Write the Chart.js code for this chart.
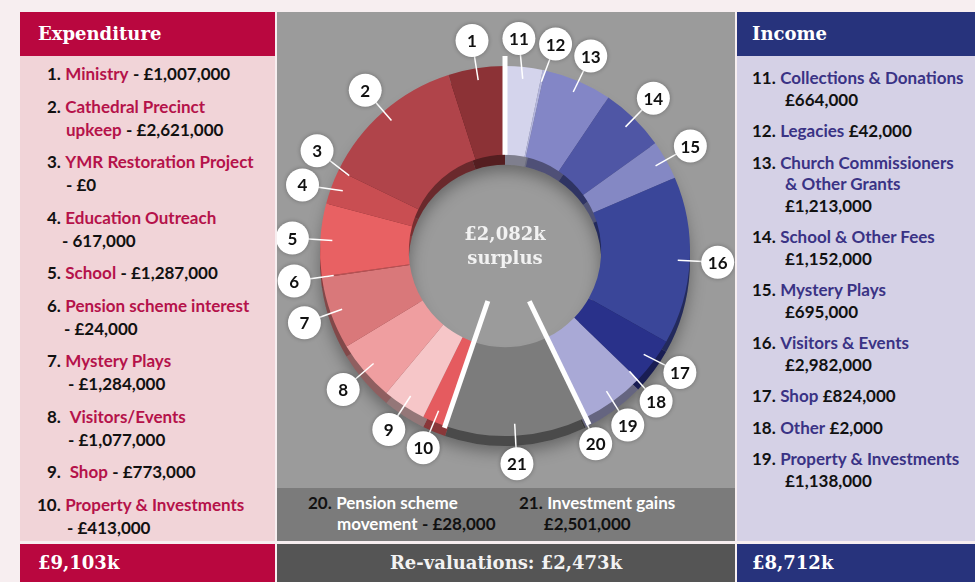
<!DOCTYPE html>
<html>
<head>
<meta charset="utf-8">
<script src="https://cdn.jsdelivr.net/npm/chart.js@4"></script>
<style>
  body { margin: 0; width: 975px; height: 582px; background: #f7eef0; position: relative; overflow: hidden; font-family: Lato, "Open Sans", sans-serif; }
  .box { position: absolute; }
  .head, .foot { font-family: "DejaVu Serif", serif; font-weight: bold; color: #fff; font-size: 18px; }
  .list { font-size: 17px; line-height: 23px; }
  .it { margin-bottom: 9.5px; }
  .n { font-weight: bold; color: #111; }
  .v { font-weight: bold; color: #111; }
  .exp .nm { color: #b5124a; font-weight: bold; }
  .inc .nm { color: #3a3385; font-weight: bold; }
  .rev .nm { color: #fff; font-weight: bold; }
</style>
</head>
<body>
<!-- expenditure panel -->
<div class="box head" style="left:20px;top:12px;width:255px;height:44px;background:#b9073f;line-height:44px;padding-left:18px;box-sizing:border-box;">Expenditure</div>
<div class="box list exp" style="left:20px;top:56px;width:255px;height:485px;background:#f1d4d8;padding-top:6px;box-sizing:border-box;">
  <div class="it" style="padding-left:46px;text-indent:-19px"><span class="n">1.</span> <span class="nm">Ministry</span> <span class="v">- £1,007,000</span></div>
  <div class="it" style="padding-left:46px;text-indent:-19px"><span class="n">2.</span> <span class="nm">Cathedral Precinct<br>upkeep</span> <span class="v">- £2,621,000</span></div>
  <div class="it" style="padding-left:46px;text-indent:-19px"><span class="n">3.</span> <span class="nm">YMR Restoration Project</span><br><span class="v">- £0</span></div>
  <div class="it" style="padding-left:42px;text-indent:-15px"><span class="n">4.</span> <span class="nm">Education Outreach</span><br><span class="v">- 617,000</span></div>
  <div class="it" style="padding-left:46px;text-indent:-19px"><span class="n">5.</span> <span class="nm">School</span> <span class="v">- £1,287,000</span></div>
  <div class="it" style="padding-left:44px;text-indent:-17px"><span class="n">6.</span> <span class="nm">Pension scheme interest</span><br><span class="v">- £24,000</span></div>
  <div class="it" style="padding-left:48px;text-indent:-21px"><span class="n">7.</span> <span class="nm">Mystery Plays</span><br><span class="v">- £1,284,000</span></div>
  <div class="it" style="padding-left:48px;text-indent:-21px"><span class="n">8.</span> &nbsp;<span class="nm">Visitors/Events</span><br><span class="v">- £1,077,000</span></div>
  <div class="it" style="padding-left:46px;text-indent:-19px"><span class="n">9.</span> &nbsp;<span class="nm">Shop</span> <span class="v">- £773,000</span></div>
  <div class="it" style="padding-left:47px;text-indent:-30px"><span class="n">10.</span> <span class="nm">Property &amp; Investments</span><br><span class="v">- £413,000</span></div>
</div>
<div class="box foot" style="left:20px;top:544px;width:255px;height:38px;background:#b9073f;line-height:38px;padding-left:18px;box-sizing:border-box;">£9,103k</div>

<!-- middle panel -->
<div class="box" style="left:277px;top:12px;width:458px;height:476px;background:#9b9b9b;"></div>
<div class="box list rev" style="left:277px;top:488px;width:458px;height:53px;background:#7b7b7b;line-height:21px;">
  <div style="position:absolute;left:31px;top:4px;"><span class="n">20.</span> <span class="nm">Pension scheme<br>&nbsp;&nbsp;&nbsp;&nbsp;&nbsp;&nbsp;&nbsp;movement</span> <span class="v">- £28,000</span></div>
  <div style="position:absolute;left:242px;top:4px;"><span class="n">21.</span> <span class="nm">Investment gains</span><br><span class="v">&nbsp;&nbsp;&nbsp;&nbsp;&nbsp;&nbsp;£2,501,000</span></div>
</div>
<div class="box foot" style="left:277px;top:544px;width:458px;height:38px;background:#555555;line-height:38px;text-align:center;color:#f2f2f2;">Re-valuations: £2,473k</div>
<canvas id="ring" class="box" width="458" height="476" style="left:277px;top:12px;"></canvas>

<!-- income panel -->
<div class="box head" style="left:737px;top:12px;width:238px;height:44px;background:#27337c;line-height:44px;padding-left:15px;box-sizing:border-box;">Income</div>
<div class="box list inc" style="left:737px;top:56px;width:238px;height:485px;background:#d5d1e6;padding-top:11px;box-sizing:border-box;line-height:21.5px;white-space:nowrap;">
  <div class="it" style="padding-left:48px;text-indent:-33px;margin-bottom:10px"><span class="n">11.</span> <span class="nm">Collections &amp; Donations</span><br><span class="v">£664,000</span></div>
  <div class="it" style="padding-left:48px;text-indent:-33px;margin-bottom:10px"><span class="n">12.</span> <span class="nm">Legacies</span> <span class="v">£42,000</span></div>
  <div class="it" style="padding-left:48px;text-indent:-33px;margin-bottom:10px"><span class="n">13.</span> <span class="nm">Church Commissioners<br>&amp; Other Grants</span><br><span class="v">£1,213,000</span></div>
  <div class="it" style="padding-left:48px;text-indent:-33px;margin-bottom:10px"><span class="n">14.</span> <span class="nm">School &amp; Other Fees</span><br><span class="v">£1,152,000</span></div>
  <div class="it" style="padding-left:48px;text-indent:-33px;margin-bottom:10px"><span class="n">15.</span> <span class="nm">Mystery Plays</span><br><span class="v">£695,000</span></div>
  <div class="it" style="padding-left:48px;text-indent:-33px;margin-bottom:10px"><span class="n">16.</span> <span class="nm">Visitors &amp; Events</span><br><span class="v">£2,982,000</span></div>
  <div class="it" style="padding-left:48px;text-indent:-33px;margin-bottom:10px"><span class="n">17.</span> <span class="nm">Shop</span> <span class="v">£824,000</span></div>
  <div class="it" style="padding-left:48px;text-indent:-33px;margin-bottom:10px"><span class="n">18.</span> <span class="nm">Other</span> <span class="v">£2,000</span></div>
  <div class="it" style="padding-left:48px;text-indent:-33px;margin-bottom:10px"><span class="n">19.</span> <span class="nm">Property &amp; Investments</span><br><span class="v">£1,138,000</span></div>
</div>
<div class="box foot" style="left:737px;top:544px;width:238px;height:38px;background:#27337c;line-height:38px;padding-left:15px;box-sizing:border-box;">£8,712k</div>

<script>
// values in £k
const expenditureLabels = ['1', '2', '3', '4', '5', '6', '7', '8', '9', '10'];
const expenditureValues = [1007, 2621, 0, 617, 1287, 24, 1284, 1077, 773, 413];
const incomeLabels = ['11', '12', '13', '14', '15', '16', '17', '18', '19'];
const incomeValues = [664, 42, 1213, 1152, 695, 2982, 824, 2, 1138];
const revaluationLabels = ['20', '21'];
const revaluationValues = [28, 2501];

const expenditureColors = ['#8c3236', '#b0444a', '#be4a4e', '#c94e52', '#e86163', '#b85456', '#d9787a', '#ef9ea0', '#f6c6c8', '#e55b5f'];
const incomeColors = ['#d4d4ec', '#b3b5dd', '#8386c6', '#4f56a5', '#8488c4', '#3a4699', '#29318a', '#5058a8', '#a9a9d6'];
const revaluationColors = ['#5f5f5f', '#7c7c7c'];

// ring runs clockwise from 12 o'clock: income, re-valuations, then expenditure backwards
const labels = incomeLabels.concat(revaluationLabels, expenditureLabels.slice().reverse());
const values = incomeValues.concat(revaluationValues, expenditureValues.slice().reverse());
const colors = incomeColors.concat(revaluationColors, expenditureColors.slice().reverse());
const incomeEnd = incomeValues.length - 1;
const revalEnd = incomeValues.length + revaluationValues.length - 1;

const depth = 10;

function darken(hex, f) {
  const n = parseInt(hex.slice(1), 16);
  const r = Math.round(((n >> 16) & 255) * (1 - f));
  const g = Math.round(((n >> 8) & 255) * (1 - f));
  const b = Math.round((n & 255) * (1 - f));
  return 'rgb(' + r + ',' + g + ',' + b + ')';
}

const ringPlugin = {
  id: 'ring',
  beforeDatasetsDraw(chart) {
    const ctx = chart.ctx;
    const arcs = chart.getDatasetMeta(0).data;
    const a0 = arcs[0];
    ctx.save();
    // soft shadow under the ring
    ctx.shadowColor = 'rgba(0,0,0,0.35)';
    ctx.shadowBlur = 16;
    ctx.shadowOffsetY = 6;
    ctx.beginPath();
    ctx.arc(a0.x, a0.y + depth, a0.outerRadius, 0, Math.PI * 2);
    ctx.arc(a0.x, a0.y + depth, a0.innerRadius, Math.PI * 2, 0, true);
    ctx.fillStyle = '#777';
    ctx.fill();
    ctx.shadowColor = 'transparent';
    // side wall of the ring
    arcs.forEach((a, i) => {
      if (a.endAngle - a.startAngle <= 0) return;
      ctx.beginPath();
      ctx.arc(a.x, a.y + depth, a.outerRadius, a.startAngle, a.endAngle);
      ctx.arc(a.x, a.y + depth, a.innerRadius, a.endAngle, a.startAngle, true);
      ctx.closePath();
      ctx.fillStyle = darken(colors[i], 0.4);
      ctx.fill();
    });
    ctx.restore();
  },
  afterDatasetsDraw(chart) {
    const ctx = chart.ctx;
    const arcs = chart.getDatasetMeta(0).data;
    const cx = arcs[0].x, cy = arcs[0].y;
    const rOut = arcs[0].outerRadius, rIn = arcs[0].innerRadius;
    ctx.save();

    // white separators between expenditure, income and re-valuations
    ctx.strokeStyle = '#ffffff';
    ctx.lineWidth = 5;
    const sep = [[arcs[0].startAngle, rIn, rOut + 10], [arcs[incomeEnd].endAngle, rIn * 0.58, rOut + 8], [arcs[revalEnd].endAngle, rIn * 0.55, rOut + 2]];
    sep.forEach(([ang, r1, r2]) => {
      ctx.beginPath();
      ctx.moveTo(cx + r1 * Math.cos(ang), cy + r1 * Math.sin(ang));
      ctx.lineTo(cx + r2 * Math.cos(ang), cy + r2 * Math.sin(ang));
      ctx.stroke();
    });

    // label bubbles: mid angles spread apart so bubbles don't overlap
    const mids = arcs.map(a => (a.startAngle + a.endAngle) / 2);
    const pos = mids.slice();
    const minSep = 10 * Math.PI / 180;
    for (let k = 0; k < 80; k++) {
      for (let i = 0; i < pos.length; i++) {
        const j = (i + 1) % pos.length;
        let d = pos[j] - pos[i];
        if (j === 0) d += Math.PI * 2;
        if (d < minSep) {
          const push = (minSep - d) / 2;
          pos[i] -= push;
          pos[j] += push;
        }
      }
    }
    const rB = rOut + 28;
    ctx.lineWidth = 1.5;
    ctx.strokeStyle = '#ffffff';
    mids.forEach((m, i) => {
      const r0 = rOut - 12;
      ctx.beginPath();
      ctx.moveTo(cx + r0 * Math.cos(m), cy + r0 * Math.sin(m));
      ctx.lineTo(cx + rB * Math.cos(pos[i]), cy + rB * Math.sin(pos[i]));
      ctx.stroke();
    });
    ctx.textAlign = 'center';
    ctx.textBaseline = 'middle';
    ctx.font = 'bold 17px Lato';
    pos.forEach((p, i) => {
      const x = cx + rB * Math.cos(p), y = cy + rB * Math.sin(p);
      ctx.shadowColor = 'rgba(0,0,0,0.3)';
      ctx.shadowBlur = 4;
      ctx.beginPath();
      ctx.arc(x, y, 16.5, 0, Math.PI * 2);
      ctx.fillStyle = '#ffffff';
      ctx.fill();
      ctx.shadowColor = 'transparent';
      ctx.fillStyle = '#111111';
      ctx.fillText(labels[i], x, y + 1);
    });

    // centre text
    ctx.fillStyle = '#f2f2f2';
    ctx.font = 'bold 18px "DejaVu Serif"';
    ctx.fillText('£2,082k', cx, cy - 16);
    ctx.fillText('surplus', cx, cy + 8);
    ctx.restore();
  }
};

new Chart(document.getElementById('ring'), {
  type: 'doughnut',
  data: {
    labels: labels,
    datasets: [{
      data: values,
      backgroundColor: colors,
      borderWidth: 0
    }]
  },
  options: {
    responsive: false,
    animation: false,
    events: [],
    cutout: '52%',
    layout: { padding: { left: 43, right: 45, top: 54, bottom: 52 } },
    plugins: {
      legend: { display: false },
      tooltip: { enabled: false }
    }
  },
  plugins: [ringPlugin]
});
</script>
</body>
</html>
